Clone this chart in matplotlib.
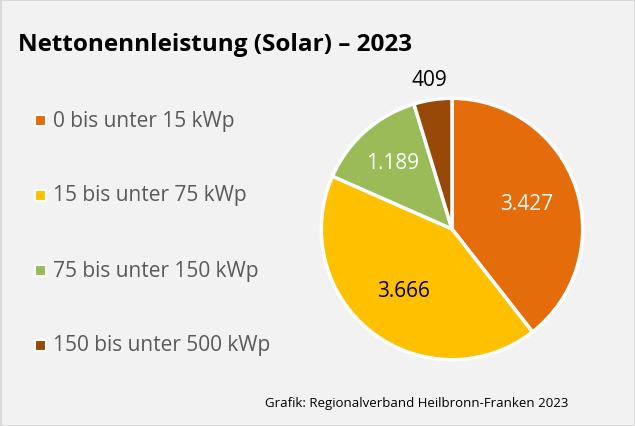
import numpy as np
import matplotlib.pyplot as plt

# Nettonennleistung Solar 2023 nach Anlagengröße
categories = ['0 bis unter 15 kWp', '15 bis unter 75 kWp', '75 bis unter 150 kWp', '150 bis unter 500 kWp']
values = [3427, 3666, 1189, 409]
value_labels = ['3.427', '3.666', '1.189', '409']
colors = ['#E46C0A', '#FFC000', '#9BBB59', '#984807']
label_colors = ['white', 'black', 'white', 'black']
label_dist = [0.60, 0.60, 0.68, 1.16]

plt.rcParams['font.family'] = ['Open Sans', 'DejaVu Sans']

fig = plt.figure(figsize=(6.35, 4.27), dpi=100)
fig.patch.set_facecolor('#F2F2F2')
fig.patch.set_edgecolor('#D9D9D9')
fig.patch.set_linewidth(2)

# title
fig.text(18 / 635, 1 - 45 / 427, 'Nettonennleistung (Solar) – 2023', fontsize=17.5,
         fontweight='bold', va='center', ha='left')

# pie
ax = fig.add_axes([(452 - 132) / 635, 1 - (230 + 132) / 427, 264 / 635, 264 / 427])
wedges, _ = ax.pie(values, colors=colors, startangle=90, counterclock=False,
                   wedgeprops=dict(edgecolor='white', linewidth=2.5))
ax.set_xlim(-1.01, 1.01)
ax.set_ylim(-1.01, 1.01)
ax.set_aspect('equal')

for w, txt, c, d in zip(wedges, value_labels, label_colors, label_dist):
    ang = np.deg2rad((w.theta1 + w.theta2) / 2)
    ax.text(d * np.cos(ang), d * np.sin(ang), txt, color=c, fontsize=15,
            ha='center', va='center', clip_on=False)

# legend
leg_y = [121, 196, 271, 346]
for cat, col, y in zip(categories, colors, leg_y):
    fig.patches.append(plt.Rectangle((35 / 635, 1 - (y + 5.5) / 427), 11 / 635, 11 / 427,
                                     transform=fig.transFigure, facecolor=col,
                                     edgecolor='white', linewidth=1.5))
    fig.text(53 / 635, 1 - y / 427, cat, fontsize=15, va='center', ha='left', color='#595959')

# source
fig.text(568 / 635, 1 - 404 / 427, 'Grafik: Regionalverband Heilbronn-Franken 2023',
         fontsize=9.5, ha='right', va='center', color='#000000')

fig.savefig('out.png', dpi=100, facecolor=fig.get_facecolor(), edgecolor=fig.get_edgecolor())
